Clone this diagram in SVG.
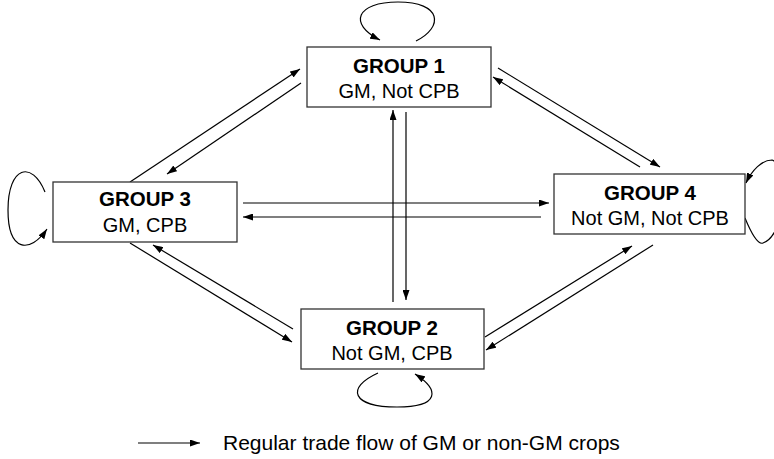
<svg xmlns="http://www.w3.org/2000/svg" width="774" height="459" viewBox="0 0 774 459">
<style>
.box{fill:#fff;stroke:#333;stroke-width:1.3}
.t{font-family:"Liberation Sans",Arial,sans-serif;font-size:20px;fill:#000;text-anchor:middle}
.b{font-weight:bold;font-size:20.5px}
.c{fill:none;stroke:#000;stroke-width:1.2;marker-end:url(#ah)}
</style>
<defs>
<marker id="ah" viewBox="0 0 10 7" refX="10" refY="3.5" markerWidth="10" markerHeight="7" markerUnits="userSpaceOnUse" orient="auto">
<path d="M0,0 L10,3.5 L0,7 z" fill="#000"/>
</marker>
</defs>
<rect width="774" height="459" fill="#fff"/>
<g id="connectors">
<path class="c" d="M130,182 L300,69"/>
<path class="c" d="M301,83 L167,174"/>
<path class="c" d="M498,68 L660,167"/>
<path class="c" d="M640,167 L493,77"/>
<path class="c" d="M243,203 L549,203"/>
<path class="c" d="M541,217 L243,217"/>
<path class="c" d="M393,302 L393,110"/>
<path class="c" d="M406,112 L406,300"/>
<path class="c" d="M130,243 L292,342"/>
<path class="c" d="M293,329 L153,245"/>
<path class="c" d="M485,337 L632,246"/>
<path class="c" d="M653,245 L486,350"/>
<path class="c" d="M416,41 C444,27 442,2 398,2 C356,2 348,24 380,40"/>
<path class="c" d="M45,192 C32,160 8,166 8,210 C8,252 30,254 47,229"/>
<path class="c" d="M378,373 C345,388 352,407 397,407 C440,407 440,390 415,374"/>
<path class="c" d="M745,218 C752,235 758,245 763,243 C772,240 781,225 782,205 C784,185 780,162 772,160 C762,160 752,170 746,183"/>
</g>
<g id="group1">
<rect class="box" x="307" y="47" width="184" height="60"/>
<text class="t b" x="399" y="73">GROUP 1</text>
<text class="t" x="399" y="98">GM, Not CPB</text>
</g>
<g id="group3">
<rect class="box" x="53" y="182" width="184" height="60"/>
<text class="t b" x="145" y="206">GROUP 3</text>
<text class="t" x="145" y="232">GM, CPB</text>
</g>
<g id="group4">
<rect class="box" x="554" y="174" width="191" height="60"/>
<text class="t b" x="650" y="200">GROUP 4</text>
<text class="t" x="650" y="225">Not GM, Not CPB</text>
</g>
<g id="group2">
<rect class="box" x="301" y="309" width="183" height="60"/>
<text class="t b" x="392" y="335">GROUP 2</text>
<text class="t" x="392" y="360">Not GM, CPB</text>
</g>
<g id="legend">
<path class="c" d="M138,443 L200,443"/>
<text class="t" x="223" y="450" style="text-anchor:start;font-size:21px">Regular trade flow of GM or non-GM crops</text>
</g>
</svg>
